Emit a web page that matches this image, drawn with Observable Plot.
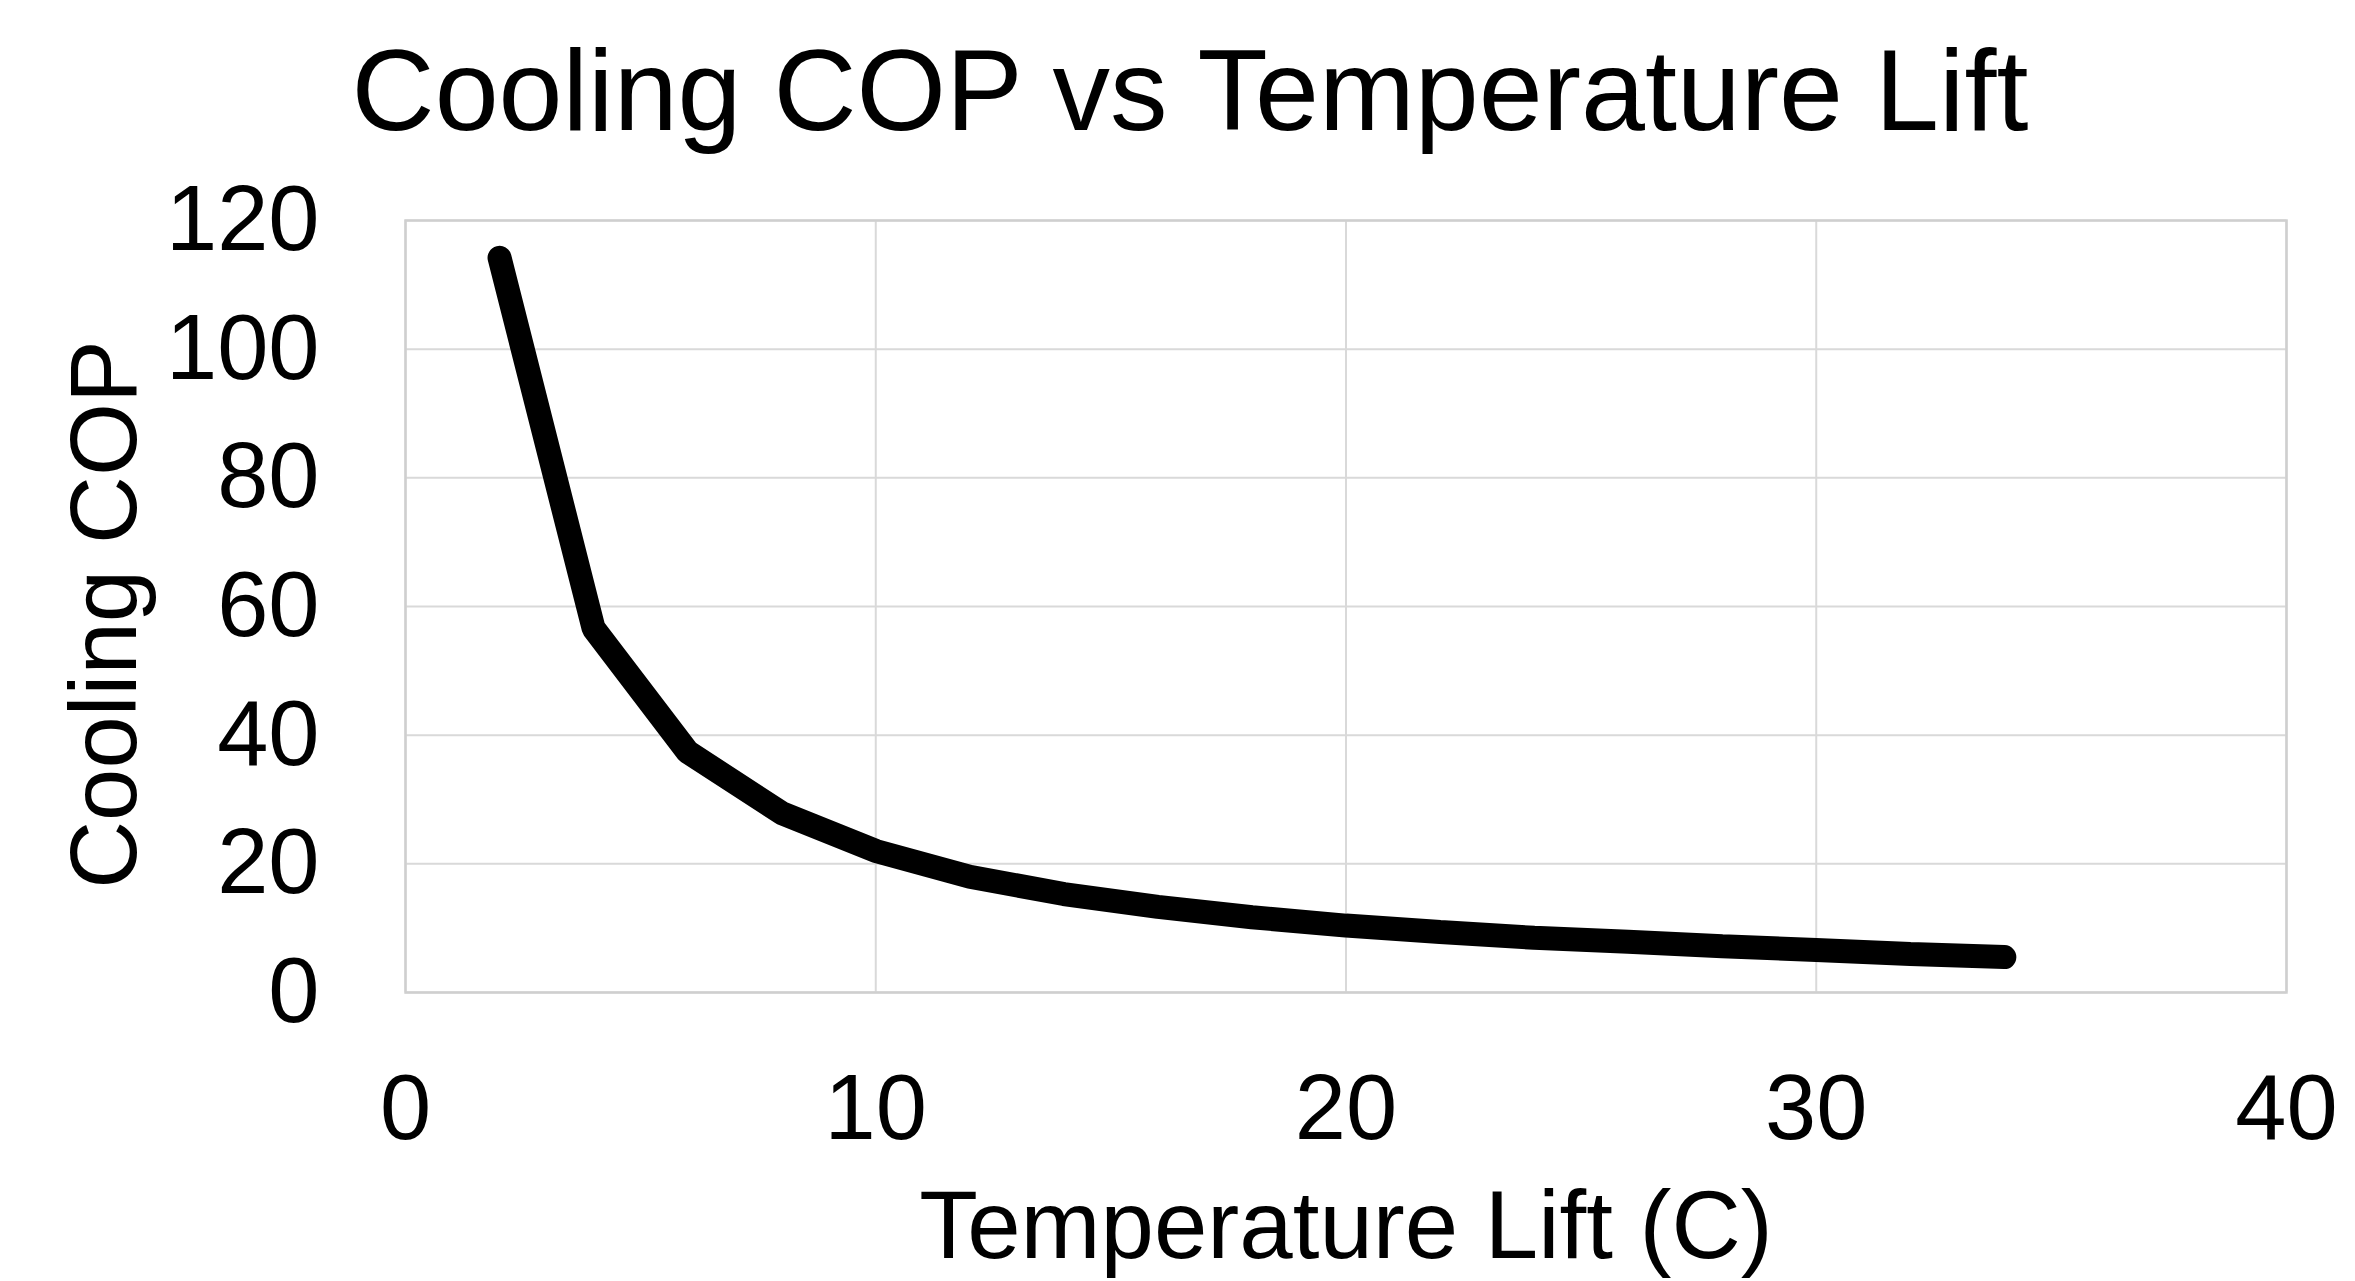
<!DOCTYPE html>
<html>
<head>
<meta charset="utf-8">
<script src="https://cdn.jsdelivr.net/npm/d3@7"></script>
<script src="https://cdn.jsdelivr.net/npm/@observablehq/plot@0.6"></script>
<style>
  html, body { margin: 0; padding: 0; background: #fff; }
  body { width: 2355px; height: 1281px; overflow: hidden; font-family: "Liberation Sans", Arial, sans-serif; }
  #title { width: 2355px; height: 183px; line-height: 180px; text-align: center; font-size: 115px; color: #000; padding-left: 25px; box-sizing: border-box; white-space: nowrap; }
  #chart svg { display: block; overflow: visible; }
</style>
</head>
<body>
<div id="title">Cooling COP vs Temperature Lift</div>
<div id="chart"></div>
<script>
const titleText = "Cooling COP vs Temperature Lift";
const xLabel = "Temperature Lift (C)";
const yLabel = "Cooling COP";
const lift = [2, 4, 6, 8, 10, 12, 14, 16, 18, 20, 22, 24, 26, 28, 30, 32, 34];
const cop = [114.2, 56.6, 37.4, 27.9, 22.0, 18.0, 15.3, 13.3, 11.7, 10.4, 9.4, 8.5, 7.9, 7.2, 6.6, 6.0, 5.5];
const xTicks = [0, 10, 20, 30, 40];
const yTicks = [0, 20, 40, 60, 80, 100, 120];

const data = lift.map((x, i) => ({x, y: cop[i]}));

const chart = Plot.plot({
  width: 2355,
  height: 1098,
  marginLeft: 405,
  marginRight: 69,
  marginTop: 37,
  marginBottom: 289,
  style: {fontFamily: "'Liberation Sans', Arial, sans-serif", color: "#000", background: "#fff", overflow: "visible"},
  x: {domain: [0, 40]},
  y: {domain: [0, 120]},
  marks: [
    Plot.gridX(xTicks, {stroke: "#d9d9d9", strokeOpacity: 1, strokeWidth: 2}),
    Plot.gridY(yTicks, {stroke: "#d9d9d9", strokeOpacity: 1, strokeWidth: 2}),
    Plot.frame({stroke: "#cfcfcf", strokeWidth: 2.5}),
    Plot.axisX(xTicks, {tickSize: 0, tickPadding: 81, fontSize: 92, label: null, fill: "#000"}),
    Plot.axisY(yTicks, {tickSize: 0, tickPadding: 86, fontSize: 92, label: null, fill: "#000"}),
    Plot.line(data, {x: "x", y: "y", stroke: "#000", strokeWidth: 24, strokeLinecap: "round", strokeLinejoin: "miter"}),
    Plot.text([xLabel], {frameAnchor: "bottom", text: d => d, dy: 265, lineAnchor: "bottom", textAnchor: "middle", fontSize: 96, fill: "#000"}),
    Plot.text([yLabel], {frameAnchor: "left", text: d => d, dx: -270, dy: 8, rotate: -90, lineAnchor: "bottom", textAnchor: "middle", fontSize: 94, fill: "#000"})
  ]
});
document.getElementById("chart").appendChild(chart);
</script>
</body>
</html>
